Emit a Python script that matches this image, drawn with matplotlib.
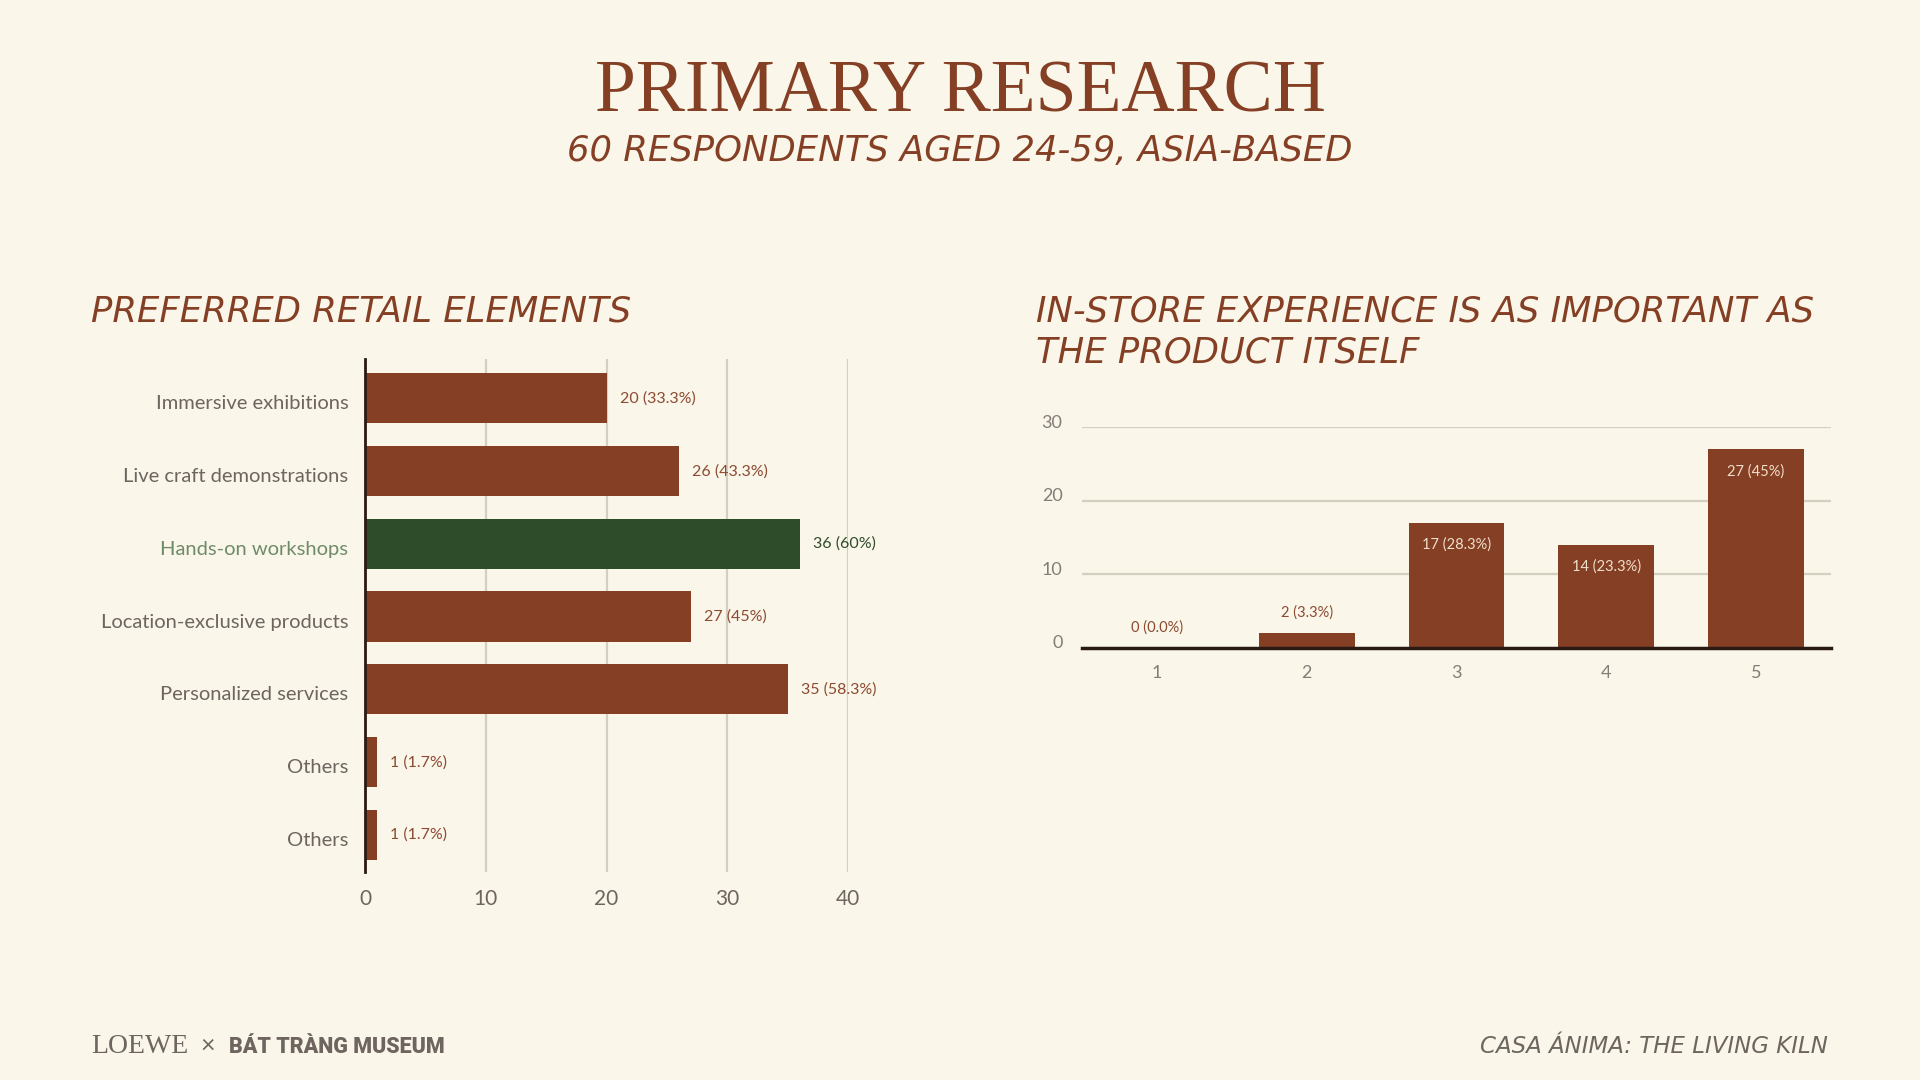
import matplotlib
matplotlib.use("Agg")
import matplotlib.pyplot as plt
import matplotlib.transforms as mtransforms
import numpy as np

# data
retail_elements = [
    "Immersive exhibitions",
    "Live craft demonstrations",
    "Hands-on workshops",
    "Location-exclusive products",
    "Personalized services",
    "Others",
    "Others",
]
retail_counts = [20, 26, 36, 27, 35, 1, 1]
retail_pcts = ["33.3%", "43.3%", "60%", "45%", "58.3%", "1.7%", "1.7%"]
highlight = "Hands-on workshops"

scale_points = [1, 2, 3, 4, 5]
scale_counts = [0, 2, 17, 14, 27]
scale_pcts = ["0.0%", "3.3%", "28.3%", "23.3%", "45%"]

# colours
BG = "#FAF6E9"
BROWN = "#843F24"
GREEN = "#2E4C2A"
GREEN_TXT = "#6F8B69"
GRID = "#D5CFC0"
SPINE = "#2A1A14"
GREY = "#6E6460"
TICK_GREY = "#857C78"
LABEL_BROWN = "#8C4A31"
CREAM = "#F0DFCB"

SANS = ["Lato", "DejaVu Sans"]
HEAD = ["DejaVu Sans"]
SERIF = ["Liberation Serif", "DejaVu Serif"]

plt.rcParams["font.family"] = SANS

fig = plt.figure(figsize=(19.2, 10.8), dpi=100, facecolor=BG)

# titles
fig.text(0.5, 1 - 112 / 1080, "PRIMARY RESEARCH", ha="center", va="baseline",
         family=SERIF, fontsize=53, color=BROWN)
fig.text(0.5, 1 - 161 / 1080, "60 RESPONDENTS AGED 24-59, ASIA-BASED", ha="center",
         va="baseline", family=HEAD, fontsize=25.5, style="oblique", color=BROWN)

fig.text(91 / 1920, 1 - 322 / 1080, "PREFERRED RETAIL ELEMENTS", ha="left", va="baseline",
         family=HEAD, fontsize=25.5, style="oblique", color=BROWN)
fig.text(1036 / 1920, 1 - 322 / 1080, "IN-STORE EXPERIENCE IS AS IMPORTANT AS", ha="left",
         va="baseline", family=HEAD, fontsize=25.5, style="oblique", color=BROWN)
fig.text(1036 / 1920, 1 - 362 / 1080, "THE PRODUCT ITSELF", ha="left",
         va="baseline", family=HEAD, fontsize=25.5, style="oblique", color=BROWN)

# left: horizontal bars
ax1 = fig.add_axes([365 / 1920, 1 - 872 / 1080, 483 / 1920, 513 / 1080])
ax1.set_facecolor(BG)
ypos = np.arange(len(retail_elements))
colors = [GREEN if e == highlight else BROWN for e in retail_elements]
ax1.barh(ypos, retail_counts, height=0.69, color=colors, zorder=3)
for x in [10, 20, 30, 40]:
    ax1.axvline(x, color=GRID, lw=1.6, zorder=1)
ax1.set_xlim(0, 40)
ax1.set_ylim(6.51, -0.54)
ax1.set_yticks(ypos)
ax1.set_yticklabels(retail_elements)
ax1.set_xticks([0, 10, 20, 30, 40])
ax1.tick_params(axis="y", length=0, pad=12, labelsize=14.5, labelcolor=GREY)
ax1.tick_params(axis="x", length=0, pad=12, labelsize=15, labelcolor=GREY)
down = mtransforms.ScaledTranslation(0, -4 / 100, fig.dpi_scale_trans)
for lab, e in zip(ax1.get_yticklabels(), retail_elements):
    lab.set_transform(lab.get_transform() + down)
    if e == highlight:
        lab.set_color(GREEN_TXT)
for s in ["top", "right", "bottom"]:
    ax1.spines[s].set_visible(False)
ax1.spines["left"].set_color(SPINE)
ax1.spines["left"].set_linewidth(2)
ax1.spines["left"].set_zorder(4)
for y, c, p, e in zip(ypos, retail_counts, retail_pcts, retail_elements):
    ax1.text(c + 1.1, y, f"{c} ({p})", va="center", ha="left", fontsize=11.5,
             color=GREEN if e == highlight else LABEL_BROWN,
             zorder=5, clip_on=False)

# right: vertical bars
ax2 = fig.add_axes([1082 / 1920, 1 - 648 / 1080, 749 / 1920, 221 / 1080])
ax2.set_facecolor(BG)
ax2.bar(scale_points, scale_counts, width=0.64, color=BROWN, zorder=3)
for y in [10, 20, 30]:
    ax2.axhline(y, color=GRID, lw=1.6, zorder=1)
ax2.set_xlim(0.5, 5.5)
ax2.set_ylim(0, 30)
ax2.set_yticks([0, 10, 20, 30])
ax2.set_xticks(scale_points)
ax2.tick_params(axis="y", length=0, pad=14, labelsize=13, labelcolor=TICK_GREY)
ax2.tick_params(axis="x", length=0, pad=12, labelsize=13, labelcolor=TICK_GREY)
up = mtransforms.ScaledTranslation(0, 6 / 100, fig.dpi_scale_trans)
for lab in ax2.get_yticklabels():
    lab.set_transform(lab.get_transform() + up)
for s in ["top", "right", "left"]:
    ax2.spines[s].set_visible(False)
ax2.spines["bottom"].set_color(SPINE)
ax2.spines["bottom"].set_linewidth(2.5)
ax2.spines["bottom"].set_zorder(4)
for x, c, p in zip(scale_points, scale_counts, scale_pcts):
    if c < 6:
        ty, col = c + 2.8, LABEL_BROWN
    else:
        ty, col = c - 3, CREAM
    ax2.text(x, ty, f"{c} ({p})", ha="center", va="center", fontsize=10.5,
             color=col, zorder=5)

# footer
fig.text(91 / 1920, 1 - 1053 / 1080, "LOEWE", ha="left", va="baseline",
         family=SERIF, fontsize=20, color=GREY)
fig.text(200 / 1920, 1 - 1053 / 1080, "×", ha="left", va="baseline",
         fontsize=18, color=GREY)
fig.text(229 / 1920, 1 - 1053 / 1080, "BÁT TRÀNG MUSEUM", ha="left", va="baseline",
         family=["Roboto", "DejaVu Sans"], fontweight="heavy",
         fontsize=15.5, color=GREY)
fig.text(1828 / 1920, 1 - 1053 / 1080, "CASA ÁNIMA: THE LIVING KILN", ha="right",
         va="baseline", family=HEAD, fontsize=16.5, style="oblique", color=GREY)

fig.savefig("out.png", dpi=100, facecolor=BG)
